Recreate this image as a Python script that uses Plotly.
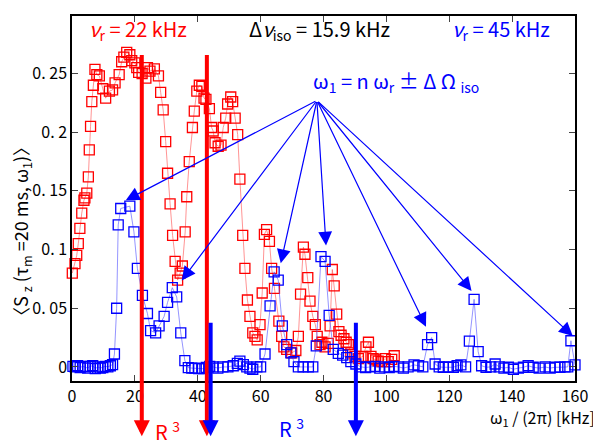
import plotly.graph_objects as go

# ---------------- data ----------------
red_x = [0.1, 0.95, 1.5, 2.0, 2.5, 3.1, 3.8, 4.1, 4.7, 5.2,
         5.5, 5.9, 6.3, 6.8, 7.3, 7.9, 8.7, 9.8, 10.7, 11.9,
         12.9, 13.7, 15.0, 15.8, 16.5, 17.4, 18.4, 19.0, 20.0, 20.6,
         21.2, 22.3, 23.5, 24.0, 24.8, 26.2, 27.5, 28.2, 29.0, 29.8,
         30.4, 31.2, 32.0, 32.8, 33.6, 34.4, 35.1, 36.0, 36.5, 37.3,
         38.3, 38.9, 39.7, 40.5, 41.3, 42.0, 42.6, 43.7, 44.4, 44.9,
         45.5, 46.5, 47.4, 48.1, 48.9, 49.5, 50.5, 51.1, 51.9, 52.7,
         53.4, 54.3, 55.0, 55.8, 56.6, 57.5, 58.2, 58.9, 59.8, 60.5,
         61.2, 61.9, 62.8, 63.5, 64.4, 65.8, 66.7, 67.4, 68.3, 69.9,
         71.2, 72.0, 72.7, 73.6, 74.1, 75.0, 75.7, 76.6, 77.4, 78.0,
         78.9, 79.5, 80.5, 81.5, 82.1, 82.8, 83.4, 84.2, 84.9, 85.6,
         86.5, 87.2, 87.9, 88.7, 90.0, 91.1, 92.5, 93.5, 94.3, 95.1,
         95.8, 96.6, 97.4, 98.5, 99.6, 100.6, 101.7, 102.5]
red_y = [0.080, 0.088, 0.095, 0.105, 0.118, 0.131, 0.142, 0.144, 0.148, 0.162,
         0.185, 0.205, 0.226, 0.240, 0.2535, 0.249, 0.248, 0.237, 0.229, 0.235,
         0.236, 0.242, 0.249, 0.260, 0.264, 0.268, 0.266, 0.261, 0.259, 0.255,
         0.251, 0.250, 0.246, 0.255, 0.252, 0.254, 0.248, 0.234, 0.219, 0.192,
         0.165, 0.139, 0.112, 0.090, 0.074, 0.080, 0.086, 0.115, 0.145, 0.175,
         0.204, 0.218, 0.235, 0.240, 0.239, 0.229, 0.228, 0.220, 0.204, 0.201,
         0.191, 0.188, 0.189, 0.204, 0.212, 0.224, 0.230, 0.226, 0.212, 0.198,
         0.160, 0.112, 0.084, 0.057, 0.043, 0.029, 0.026, 0.023, 0.036, 0.063,
         0.113, 0.117, 0.107, 0.084, 0.067, 0.039, 0.026, 0.017, 0.015, 0.012,
         0.014, 0.026, 0.062, 0.102, 0.096, 0.076, 0.056, 0.043, 0.036, 0.026,
         0.019, 0.021, 0.017, 0.020, 0.035, 0.083, 0.069, 0.045, 0.030, 0.027,
         0.024, 0.021, 0.019, 0.012, 0.009, 0.007, 0.009, 0.017, 0.021, 0.009,
         0.007, 0.006, 0.005, 0.0045, 0.007, 0.0045, 0.0065, 0.0095]

blue_x = [0.3, 1.0, 1.8, 2.6, 3.4, 4.2, 5.0, 5.8, 6.6, 7.4,
          8.2, 9.0, 9.8, 10.6, 11.4, 12.2, 12.9, 13.5, 14.2, 14.7,
          15.5, 18.4, 19.7, 20.8, 22.4, 24.0, 25.0, 26.6, 27.7, 29.3,
          30.4, 31.9, 33.3, 34.6, 35.9, 37.0, 38.1, 39.1, 40.3, 41.5,
          42.7, 43.8, 44.9, 46.4, 48.0, 49.6, 51.3, 52.6, 53.4, 54.5,
          55.6, 56.6, 57.5, 58.8, 60.0, 61.4, 63.0, 64.3, 65.6, 66.9,
          68.3, 69.6, 70.6, 72.0, 73.5, 75.2, 76.6, 77.7, 79.2, 80.5,
          81.8, 83.1, 84.7, 86.1, 87.4, 88.7, 90.3, 91.9, 93.4, 94.9,
          96.4, 97.9, 99.4, 100.9, 102.4, 103.9, 105.4, 106.9, 108.8, 110.2,
          111.6, 113.1, 114.4, 115.5, 116.8, 118.1, 119.7, 121.3, 122.5, 123.7,
          125.2, 126.4, 127.9, 129.2, 130.3, 131.7, 133.2, 134.6, 135.9, 137.4,
          138.8, 140.4, 142.0, 143.6, 145.1, 146.7, 148.6, 150.5, 152.1, 153.6,
          155.2, 156.8, 157.7, 158.7, 160.0]
blue_y = [0.0005, 0.0, 0.001, -0.0005, 0.0005, 0.0, -0.001, 0.0005, 0.001, -0.0015,
          0.0, -0.001, -0.0005, 0.0005, 0.0, 0.001, 0.002, 0.011, 0.050, 0.121,
          0.135, 0.137, 0.115, 0.084, 0.061, 0.0455, 0.031, 0.029, 0.035, 0.043,
          0.055, 0.0675, 0.0596, 0.029, 0.0053, -0.0006, -0.001, -0.001, -0.0015, -0.0015,
          -0.0005, 0.0005, 0.0, -0.001, 0.0, 0.0, 0.001, 0.003, 0.005, 0.002,
          0.0, -0.001, -0.002, 0.0, 0.0, 0.011, 0.052, 0.081, 0.074, 0.035,
          0.019, 0.012, 0.0045, 0.0, 0.0, 0.0, 0.0, 0.018, 0.094, 0.090,
          0.044, 0.015, 0.0116, 0.010, 0.008, 0.0045, 0.0025, 0.0, -0.0005, 0.0,
          0.0005, -0.001, 0.0, -0.0005, 0.0005, 0.0, -0.001, 0.0, 0.0017, 0.001,
          0.0, 0.019, 0.025, 0.0025, 0.0, -0.0003, 0.0, -0.0003, 0.001, 0.0017,
          0.0, 0.022, 0.0576, 0.013, 0.001, -0.0003, 0.0, 0.0025, 0.0, -0.001,
          -0.0003, -0.002, -0.001, -0.0003, 0.001, -0.0003, -0.001, 0.0, -0.001, -0.0003,
          -0.0003, 0.0, 0.0, 0.0223, 0.0017]

# R^3 resonance positions (kHz)
red_res_x = [22.2, 42.9]
blue_res_x = [44.1, 90.3]
red_res_top = 0.267
blue_res_top = 0.039
res_tip = -0.059

# pointer arrows from the formula to the peaks
ptr_origin = (77.9, 0.227)
ptr_tip_x = [17.1, 34.9, 66.4, 80.8, 112.6, 127.1, 159.3]
ptr_tip_y = [0.142, 0.0737, 0.0884, 0.1034, 0.0342, 0.0647, 0.0263]

x_ticks = [0, 20, 40, 60, 80, 100, 120, 140, 160]
y_ticks = [0, 0.05, 0.1, 0.15, 0.2, 0.25]
y_ticktext = ["0", "0. 05", "0. 1", "0. 15", "0. 2", "0. 25"]

FONT = "Noto Sans CJK JP, Roboto, DejaVu Sans"

fig = go.Figure()
fig.add_trace(go.Scatter(
    x=red_x, y=red_y, mode="lines+markers", cliponaxis=False, showlegend=False,
    line=dict(color="rgba(255,90,90,0.65)", width=1),
    marker=dict(symbol="square-open", size=10, color="#ff0000", line=dict(width=1.3))))
fig.add_trace(go.Scatter(
    x=blue_x, y=blue_y, mode="lines+markers", cliponaxis=False, showlegend=False,
    line=dict(color="rgba(90,90,255,0.65)", width=1),
    marker=dict(symbol="square-open", size=10, color="#0000ff", line=dict(width=1.3))))

ann = []
for xv in red_res_x:
    ann.append(dict(x=xv, y=res_tip, ax=xv, ay=red_res_top, xref="x", yref="y",
                    axref="x", ayref="y", text="", showarrow=True, arrowhead=2,
                    arrowsize=0.8, arrowwidth=4, arrowcolor="#ff0000", standoff=0))
for xv in blue_res_x:
    ann.append(dict(x=xv, y=res_tip, ax=xv, ay=blue_res_top, xref="x", yref="y",
                    axref="x", ayref="y", text="", showarrow=True, arrowhead=2,
                    arrowsize=0.8, arrowwidth=4, arrowcolor="#0000ff", standoff=0))
for tx, ty in zip(ptr_tip_x, ptr_tip_y):
    ann.append(dict(x=tx, y=ty, ax=ptr_origin[0], ay=ptr_origin[1], xref="x", yref="y",
                    axref="x", ayref="y", text="", showarrow=True, arrowhead=2,
                    arrowsize=2.3, arrowwidth=1.2, arrowcolor="#0000ff", standoff=0))

def txt(t, x, y, color, size=20, xanchor="center", angle=0):
    return dict(text=t, x=x, y=y, xref="paper", yref="paper", showarrow=False,
                xanchor=xanchor, yanchor="middle", textangle=angle,
                font=dict(family=FONT, size=size, color=color))

ann += [
    txt("<i>ν</i><sub>r</sub> = 22 kHz", 0.132, 0.962, "#ff0000"),
    txt("Δ<i>ν</i><sub>iso</sub> = 15.9 kHz", 0.493, 0.962, "#000000"),
    txt("<i>ν</i><sub>r</sub> = 45 kHz", 0.853, 0.962, "#0000ff"),
    txt("ω<sub>1</sub> = n ω<sub>r</sub> ± Δ Ω <sub>iso</sub>", 0.645, 0.82, "#0000ff"),
    txt("R <sup>3</sup>", 0.19, -0.137, "#ff0000", size=20),
    txt("R <sup>3</sup>", 0.437, -0.13, "#0000ff", size=20),
    txt("ω<sub>1</sub> / (2π) [kHz]", 1.044, -0.1, "#000000", size=16, xanchor="right"),
    txt("〈S <sub>z</sub> (τ<sub>m</sub> =20 ms, ω<sub>1</sub>)〉", -0.1, 0.41, "#000000", size=18, angle=-90),
]

# the page has an 8 px body margin, so the figure is 8 px smaller and its
# left/top margins 8 px smaller, keeping the plot area where the reference has it
fig.update_layout(
    width=593, height=438,
    margin=dict(l=64, r=26, t=6, b=65),
    paper_bgcolor="white", plot_bgcolor="white",
    font=dict(family=FONT, size=16, color="black"),
    annotations=ann,
    xaxis=dict(range=[0, 160], tickvals=x_ticks, ticks="inside", ticklen=6,
               showline=True, linecolor="black", linewidth=1.5, mirror="ticks",
               showgrid=False, zeroline=False, tickfont=dict(size=16)),
    yaxis=dict(range=[-0.012, 0.299], tickvals=y_ticks, ticktext=y_ticktext,
               ticks="inside", ticklen=6, showline=True, linecolor="black",
               linewidth=1.5, mirror="ticks", showgrid=False, zeroline=False,
               tickfont=dict(size=16)),
)

fig.write_html("out.html")
